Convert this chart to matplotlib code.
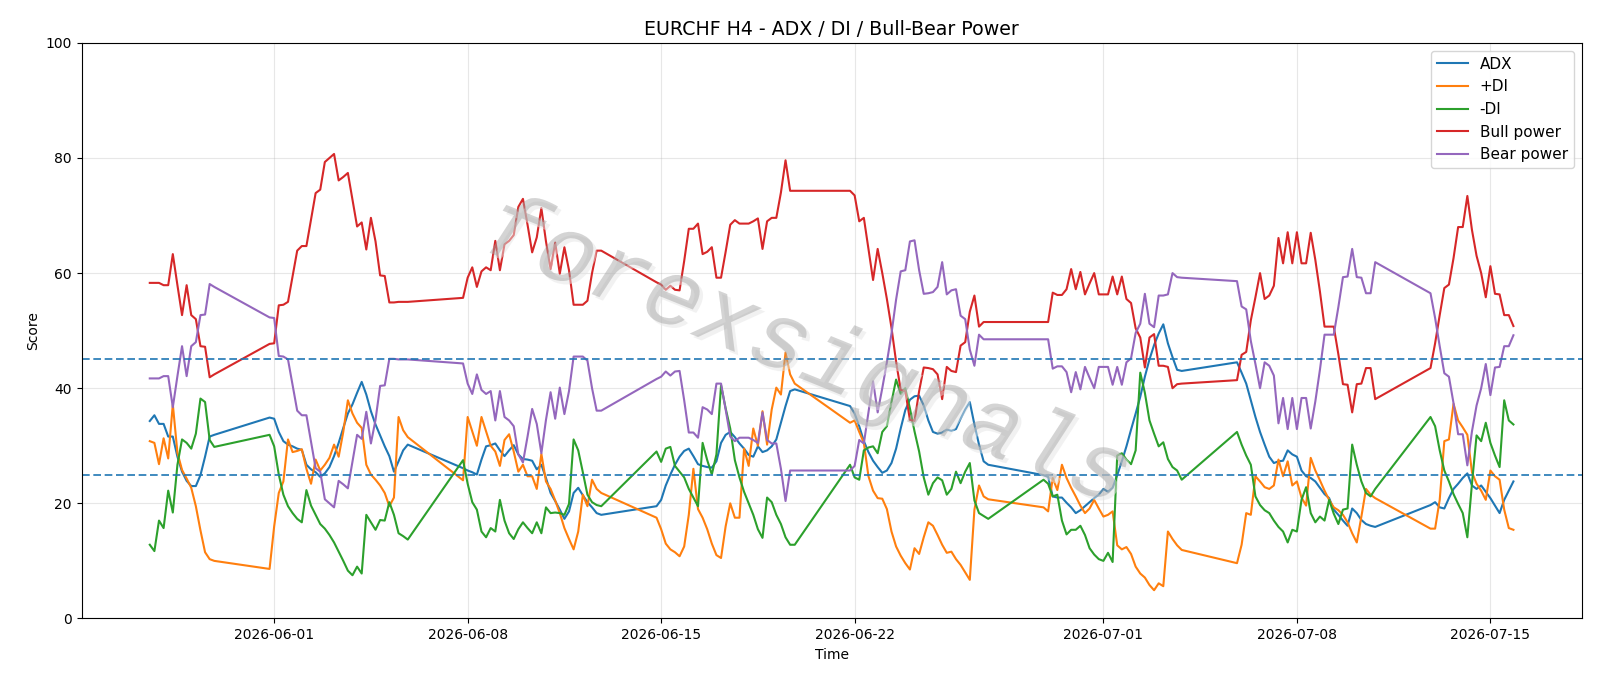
import matplotlib
matplotlib.use("Agg")
import matplotlib.pyplot as plt
import matplotlib.dates as mdates
import matplotlib.patheffects as pe
import pandas as pd

# ---- time axis: H4 bars, FX trading hours (Sun 20:00 .. Fri 20:00) ----
start_time = "2026-05-27 12:00"
end_time = "2026-07-15 20:00"

adx = [
    34.3, 35.3, 33.8, 33.8, 31.6, 31.6, 28.1, 25.5, 23.9, 23.0, 23.0, 24.9, 28.1, 31.6, 31.9,
    34.9, 34.7, 32.4, 30.8, 30.2, 29.9, 29.5, 29.3, 26.7, 25.9, 25.4, 24.6, 25.2, 26.3, 28.2, 30.5,
    33.1, 35.6, 37.2, 39.2, 41.1, 38.9, 36.0, 33.7, 31.8, 29.9, 28.2, 25.5, 27.3, 29.2, 30.2,
    26.1, 25.7, 25.4, 25.0, 27.6, 29.9, 30.1, 30.4, 29.2, 28.2, 29.2, 30.1, 28.5, 27.7, 27.6, 27.4,
    25.9, 26.7, 24.4, 21.8, 20.4, 18.9, 17.3, 18.6, 21.8, 22.7, 21.4, 20.2, 19.3, 18.3, 18.0,
    19.5, 20.6, 23.1, 25.0, 26.7, 28.1, 29.1, 29.5, 28.2, 26.8, 26.5, 26.3, 26.2, 27.3, 30.5, 31.9,
    32.4, 31.5, 30.4, 29.5, 28.4, 28.1, 29.9, 28.9, 29.2, 29.9, 31.1, 34.0, 36.9, 39.5, 39.8,
    36.9, 35.6, 33.4, 30.8, 28.9, 27.4, 26.3, 25.3, 25.7, 27.0, 29.5, 33.0, 36.2, 38.0, 38.6, 38.7,
    37.0, 34.4, 32.4, 32.1, 32.3, 32.8, 32.6, 32.9, 34.7, 36.3, 37.6, 33.7, 30.2, 27.3, 26.7,
    24.9, 24.6, 21.2, 21.0, 21.0, 20.1, 19.3, 18.3, 18.8, 19.5, 20.2, 20.9, 21.5, 22.5, 22.0, 22.7,
    24.9, 27.3, 29.9, 32.8, 35.6, 38.5, 42.0, 45.0, 47.5, 49.5, 51.1, 47.8, 45.4, 43.2, 43.0,
    44.5, 42.7, 40.8, 37.9, 35.0, 32.4, 30.2, 28.1, 27.0, 27.3, 27.4, 29.2, 28.5, 28.1, 25.7, 24.7,
    24.4, 23.8, 22.7, 21.6, 20.9, 18.9, 18.0, 17.0, 16.1, 19.1, 18.3, 17.1, 16.4, 16.1, 15.9,
    19.7, 20.2, 19.3, 19.1, 20.9, 22.5, 23.4, 24.4, 25.2, 23.1, 22.5, 23.1, 22.0, 20.9, 19.6, 18.3,
    20.6, 22.2, 23.8,
]

plus_di = [
    30.8, 30.5, 26.8, 31.3, 27.8, 37.2, 28.8, 25.8, 24.3, 22.7, 19.5, 15.3, 11.5, 10.3, 10.0,
    8.6, 16.0, 21.8, 23.8, 31.1, 28.9, 29.1, 29.4, 26.0, 23.4, 27.6, 25.7, 26.7, 27.9, 30.2, 28.1,
    32.4, 37.9, 35.6, 34.0, 33.1, 26.7, 25.0, 24.1, 23.1, 21.8, 19.5, 21.0, 35.0, 32.7, 31.5,
    24.0, 35.0, 32.5, 30.0, 35.0, 32.5, 30.0, 29.0, 26.5, 31.0, 32.0, 29.0, 25.5, 26.7, 24.7, 24.7,
    22.5, 28.6, 23.8, 22.5, 20.5, 18.3, 15.7, 13.8, 12.0, 15.1, 21.5, 19.5, 24.1, 22.5, 21.8,
    17.5, 15.5, 13.0, 12.0, 11.5, 10.8, 12.5, 18.0, 26.0, 19.0, 17.5, 15.5, 13.0, 11.0, 10.5, 16.0,
    20.0, 17.5, 17.5, 29.5, 26.5, 33.0, 30.0, 36.0, 30.2, 36.3, 40.1, 38.9, 46.2, 42.4, 40.8,
    34.0, 34.4, 32.4, 30.5, 24.7, 22.2, 20.9, 20.8, 19.0, 15.1, 12.5, 10.9, 9.6, 8.5, 12.2, 11.2,
    14.1, 16.7, 16.1, 14.5, 12.8, 11.4, 11.6, 10.3, 9.3, 8.0, 6.7, 18.9, 23.1, 21.2, 20.7,
    19.3, 18.6, 24.4, 22.3, 26.7, 24.4, 22.7, 21.2, 19.6, 18.3, 19.1, 20.6, 19.1, 17.7, 18.0, 18.6,
    12.7, 12.0, 12.4, 11.2, 9.0, 7.8, 7.1, 5.8, 4.9, 6.1, 5.6, 15.1, 13.8, 12.7, 11.9,
    9.6, 12.8, 18.3, 18.0, 24.7, 23.8, 22.8, 22.5, 23.1, 27.6, 24.7, 27.3, 23.1, 23.8, 21.0, 19.6,
    27.9, 25.7, 24.0, 22.2, 20.6, 19.3, 18.8, 18.0, 16.7, 14.8, 13.2, 17.7, 22.5, 21.5, 20.9,
    15.6, 15.6, 20.6, 30.8, 31.1, 37.3, 34.4, 33.2, 31.9, 25.4, 23.4, 22.2, 20.6, 25.7, 24.7, 24.1,
    18.9, 15.7, 15.4,
]

minus_di = [
    12.8, 11.7, 17.0, 15.7, 22.2, 18.4, 26.7, 31.1, 30.5, 29.5, 32.1, 38.2, 37.6, 31.0, 29.8,
    31.9, 29.9, 25.0, 21.5, 19.5, 18.3, 17.3, 16.7, 22.3, 19.6, 18.0, 16.4, 15.6, 14.5, 13.2, 11.6,
    10.0, 8.3, 7.5, 9.0, 7.8, 18.0, 16.7, 15.4, 17.1, 17.0, 20.2, 18.0, 14.8, 14.3, 13.7,
    27.5, 23.4, 20.2, 18.9, 15.1, 14.1, 15.7, 15.1, 20.6, 17.0, 14.8, 13.8, 15.5, 16.7, 15.7, 14.8,
    16.7, 14.8, 19.3, 18.3, 18.4, 18.3, 18.0, 19.9, 31.1, 29.2, 25.4, 21.5, 20.2, 19.7, 19.5,
    29.0, 27.2, 29.5, 29.8, 26.5, 25.5, 24.5, 22.5, 21.0, 19.5, 30.5, 27.5, 25.0, 28.5, 40.5, 36.5,
    33.0, 27.5, 24.5, 22.0, 20.0, 18.0, 15.5, 14.0, 21.0, 20.2, 18.0, 16.4, 14.1, 12.8, 12.8,
    26.7, 24.5, 24.1, 29.2, 29.7, 29.9, 28.7, 32.4, 33.4, 37.6, 41.5, 39.0, 40.0, 36.5, 32.5, 29.0,
    24.5, 21.5, 23.5, 24.5, 24.0, 21.5, 22.5, 25.5, 23.5, 25.5, 27.0, 20.5, 18.3, 17.8, 17.3,
    24.1, 23.4, 21.2, 21.5, 17.0, 14.6, 15.4, 15.4, 16.1, 14.5, 12.2, 11.1, 10.3, 10.0, 11.4, 9.8,
    28.3, 28.7, 27.6, 26.8, 29.2, 42.7, 39.2, 34.4, 32.1, 29.9, 30.6, 27.7, 26.3, 25.7, 24.1,
    32.4, 30.2, 28.3, 26.7, 21.2, 19.7, 18.8, 18.3, 17.0, 15.9, 15.1, 13.2, 15.4, 15.1, 20.6, 22.8,
    18.3, 16.7, 17.7, 17.0, 20.6, 18.2, 16.4, 18.9, 19.1, 30.2, 26.7, 23.8, 21.8, 21.2, 22.5,
    35.0, 33.4, 29.2, 25.7, 23.8, 21.6, 19.9, 18.3, 14.1, 23.4, 31.8, 30.8, 34.0, 30.5, 28.3, 26.3,
    37.9, 34.4, 33.7,
]

bull_power = [
    58.3, 58.3, 58.3, 57.9, 57.9, 63.3, 57.9, 52.7, 57.9, 52.7, 52.0, 47.3, 47.2, 41.9, 42.4,
    47.7, 47.8, 54.4, 54.5, 55.0, 59.4, 63.9, 64.7, 64.7, 69.3, 73.9, 74.5, 79.3, 80.0, 80.7, 76.1,
    76.7, 77.4, 72.8, 68.1, 68.8, 64.1, 69.6, 65.5, 59.6, 59.5, 54.9, 54.9, 55.0, 55.0, 55.0,
    55.7, 59.2, 61.0, 57.6, 60.3, 61.0, 60.5, 65.6, 60.5, 65.0, 65.6, 66.6, 71.5, 72.9, 68.4, 63.6,
    66.2, 71.3, 65.5, 60.7, 65.3, 59.9, 64.5, 60.5, 54.5, 54.5, 54.5, 55.2, 60.0, 63.9, 63.9,
    58.4, 58.0, 57.1, 57.8, 57.1, 57.0, 62.1, 67.7, 67.7, 68.6, 63.3, 63.7, 64.5, 59.2, 59.2, 63.7,
    68.4, 69.2, 68.6, 68.6, 68.6, 69.0, 69.5, 64.2, 69.0, 69.6, 69.6, 74.0, 79.6, 74.3, 74.3,
    74.3, 73.5, 69.0, 69.6, 64.2, 58.8, 64.2, 60.0, 55.5, 50.5, 44.6, 39.7, 39.5, 34.5, 34.3, 39.5,
    43.6, 43.5, 43.3, 42.4, 38.1, 43.7, 43.0, 42.8, 47.4, 48.0, 53.3, 56.1, 50.7, 51.5, 51.5,
    51.5, 51.5, 56.6, 56.2, 56.2, 57.2, 60.7, 57.2, 60.2, 56.3, 58.2, 60.0, 56.3, 56.3, 56.3, 59.4,
    56.3, 59.4, 55.5, 54.8, 50.4, 48.8, 43.6, 48.8, 49.4, 43.9, 43.9, 43.7, 40.0, 40.7, 40.8,
    41.4, 45.8, 46.3, 51.8, 55.8, 60.0, 55.5, 56.1, 57.8, 66.1, 61.7, 67.1, 61.7, 67.1, 61.7, 61.7,
    67.0, 62.3, 56.8, 50.7, 50.7, 50.7, 45.9, 40.7, 40.6, 35.8, 40.7, 40.8, 43.5, 43.5, 38.1,
    43.5, 47.8, 52.7, 57.4, 58.0, 62.6, 68.0, 68.0, 73.4, 67.5, 63.0, 60.0, 55.8, 61.2, 56.4, 56.3,
    52.7, 52.7, 50.8,
]

bear_power = [
    41.7, 41.7, 41.7, 42.1, 42.1, 36.7, 42.1, 47.3, 42.1, 47.3, 48.0, 52.7, 52.8, 58.1, 57.6,
    52.3, 52.2, 45.6, 45.5, 45.0, 40.6, 36.1, 35.3, 35.3, 30.7, 26.1, 25.5, 20.7, 20.0, 19.3, 23.9,
    23.3, 22.6, 27.2, 31.9, 31.2, 35.9, 30.4, 34.5, 40.4, 40.5, 45.1, 45.1, 45.0, 45.0, 45.0,
    44.3, 40.8, 39.0, 42.4, 39.7, 39.0, 39.5, 34.4, 39.5, 35.0, 34.4, 33.4, 28.5, 27.1, 31.6, 36.4,
    33.8, 28.7, 34.5, 39.3, 34.7, 40.1, 35.5, 39.5, 45.5, 45.5, 45.5, 44.8, 40.0, 36.1, 36.1,
    41.6, 42.0, 42.9, 42.2, 42.9, 43.0, 37.9, 32.3, 32.3, 31.4, 36.7, 36.3, 35.5, 40.8, 40.8, 36.3,
    31.6, 30.8, 31.4, 31.4, 31.4, 31.0, 30.5, 35.8, 31.0, 30.4, 30.4, 26.0, 20.4, 25.7, 25.7,
    25.7, 26.5, 31.0, 30.4, 35.8, 41.2, 35.8, 40.0, 44.5, 49.5, 55.4, 60.3, 60.5, 65.5, 65.7, 60.5,
    56.4, 56.5, 56.7, 57.6, 61.9, 56.3, 57.0, 57.2, 52.6, 52.0, 46.7, 43.9, 49.3, 48.5, 48.5,
    48.5, 48.5, 43.4, 43.8, 43.8, 42.8, 39.3, 42.8, 39.8, 43.7, 41.8, 40.0, 43.7, 43.7, 43.7, 40.6,
    43.7, 40.6, 44.5, 45.2, 49.6, 51.2, 56.4, 51.2, 50.6, 56.1, 56.1, 56.3, 60.0, 59.3, 59.2,
    58.6, 54.2, 53.7, 48.2, 44.2, 40.0, 44.5, 43.9, 42.2, 33.9, 38.3, 32.9, 38.3, 32.9, 38.3, 38.3,
    33.0, 37.7, 43.2, 49.3, 49.3, 49.3, 54.1, 59.3, 59.4, 64.2, 59.3, 59.2, 56.5, 56.5, 61.9,
    56.5, 52.2, 47.3, 42.6, 42.0, 37.4, 32.0, 32.0, 26.6, 32.5, 37.0, 40.0, 44.2, 38.8, 43.6, 43.7,
    47.3, 47.3, 49.2,
]

thresholds = [45, 25]
title = "EURCHF H4 - ADX / DI / Bull-Bear Power"
watermark = "forexsignals"

# build the bar timestamps (no weekend bars except the Sunday 20:00 open)
times = pd.date_range(start_time, end_time, freq="4h")
keep = ~((times.dayofweek == 5) | ((times.dayofweek == 6) & (times.hour < 20)))
times = times[keep]

fig, ax = plt.subplots(figsize=(16, 6.86), dpi=100)
fig.subplots_adjust(left=0.051, right=0.9885, top=0.9375, bottom=0.0985)

ax.plot(times, adx, color="#1f77b4", lw=1.5, label="ADX")
ax.plot(times, plus_di, color="#ff7f0e", lw=1.5, label="+DI")
ax.plot(times, minus_di, color="#2ca02c", lw=1.5, label="-DI")
ax.plot(times, bull_power, color="#d62728", lw=1.5, label="Bull power")
ax.plot(times, bear_power, color="#9467bd", lw=1.5, label="Bear power")

for t in thresholds:
    hl = ax.axhline(t, color="#1f77b4", ls="--", lw=1.2)
    hl.set_dashes((4.6, 2.2))

ax.set_ylim(0, 100)
ax.set_title(title, fontsize=13.7)
ax.set_xlabel("Time")
ax.set_ylabel("Score")
ax.grid(True, alpha=0.3)
ax.xaxis.set_major_locator(mdates.DayLocator(bymonthday=[1, 8, 15, 22]))
ax.xaxis.set_major_formatter(mdates.DateFormatter("%Y-%m-%d"))
ax.legend(loc="upper right", fontsize=11)

ax.text(0.483, 0.46, watermark, transform=ax.transAxes, fontsize=69,
        family=["Liberation Mono", "DejaVu Sans Mono"],
        color="#a6a6a6", alpha=0.28, rotation=-22, ha="center", va="center",
        style="italic", zorder=5,
        path_effects=[pe.withSimplePatchShadow(offset=(2.5, -2.5), shadow_rgbFace="#e4e4e4", alpha=0.5),
                      pe.Normal()])

fig.savefig("out.png", dpi=100)
